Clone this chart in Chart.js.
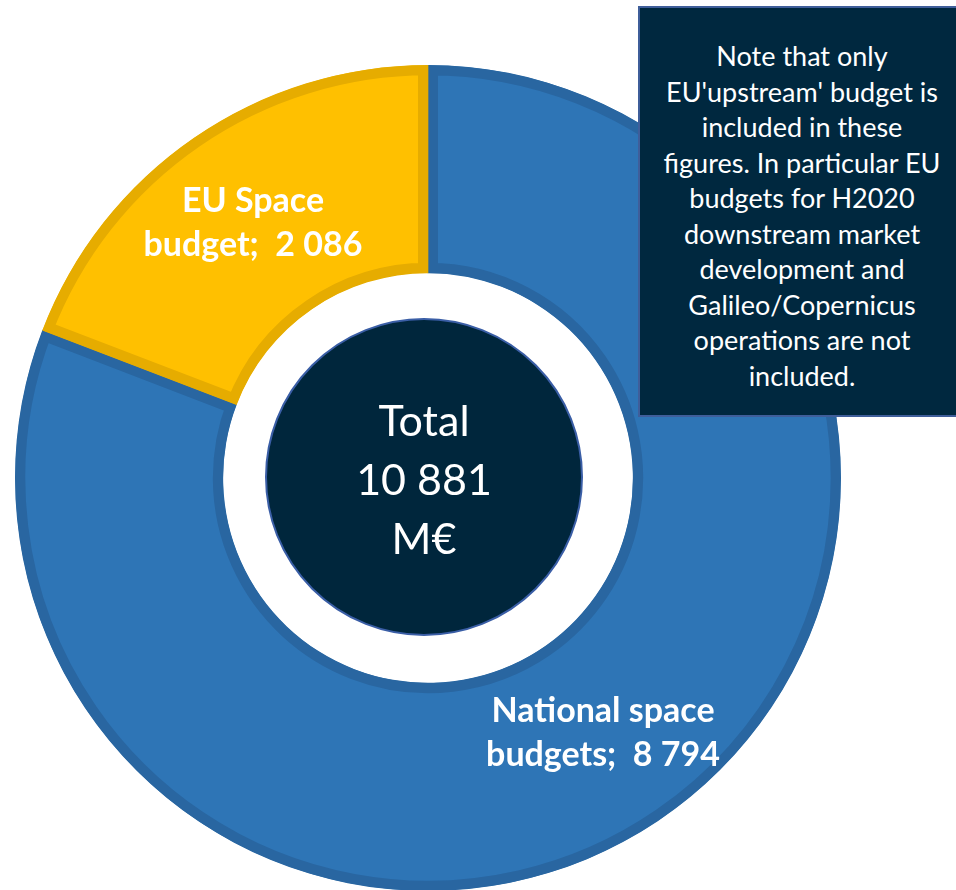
<!DOCTYPE html>
<html>
<head>
<meta charset="utf-8">
<script src="https://cdn.jsdelivr.net/npm/chart.js@4"></script>
<style>
    html, body {
        margin: 0;
        padding: 0;
        width: 956px;
        height: 890px;
        overflow: hidden;
        background: #ffffff;
    }
    #budgetChart {
        position: absolute;
        left: 15px;
        top: 65px;
    }
    .note-box {
        position: absolute;
        left: 638px;
        top: 6px;
        width: 328px;
        height: 411px;
        box-sizing: border-box;
        background: #00283f;
        border: 2px solid #3f5e9a;
        color: #ffffff;
        font-family: Lato, 'Noto Sans', sans-serif;
        font-size: 27px;
        line-height: 35.5px;
        text-align: center;
        padding-top: 30px;
        z-index: 2;
    }
</style>
</head>
<body>
<canvas id="budgetChart" width="826" height="826"></canvas>
<div class="note-box" id="note"></div>

<script>
// ============================================
// Chart data
// ============================================
const categories = [
    ['National space', 'budgets'],
    ['EU Space', 'budget']
];
const budgetValues = [8794, 2086];          // M€
const totalValue = 10881;                    // as printed in the centre
const sliceColors = ['#2e75b6', '#ffc000'];
const sliceBorders = ['#2966a1', '#e6ac00'];

const noteLines = [
    'Note that only',
    "EU'upstream' budget is",
    'included in these',
    'figures. In particular EU',
    'budgets for H2020',
    'downstream market',
    'development and',
    'Galileo/Copernicus',
    'operations are not',
    'included.'
];

// space as thousands separator, e.g. 10 881
function formatNumber(v) {
    return Math.round(v).toString().replace(/\B(?=(\d{3})+(?!\d))/g, ' ');
}

// ============================================
// Centre disc + slice labels
// ============================================
const overlayPlugin = {
    id: 'overlay',
    afterDatasetsDraw(chart) {
        const ctx = chart.ctx;
        const meta = chart.getDatasetMeta(0);
        const cx = meta.data[0].x;
        const cy = meta.data[0].y;

        // dark disc in the hole
        ctx.save();
        ctx.beginPath();
        ctx.arc(cx - 4, cy - 1, 158, 0, Math.PI * 2);
        ctx.fillStyle = '#00263c';
        ctx.fill();
        ctx.lineWidth = 2;
        ctx.strokeStyle = '#3a5ea6';
        ctx.stroke();

        ctx.fillStyle = '#ffffff';
        ctx.textAlign = 'center';
        ctx.textBaseline = 'middle';
        ctx.font = '43px Lato, "Noto Sans", sans-serif';
        ['Total', formatNumber(totalValue), 'M€'].forEach((line, i) => {
            ctx.fillText(line, cx - 4, cy - 56 + i * 59);
        });

        // slice labels at the middle of each arc
        ctx.font = 'bold 34px Lato, "Noto Sans", sans-serif';
        meta.data.forEach((arc, i) => {
            const pos = arc.tooltipPosition();
            const lines = categories[i].slice();
            lines[lines.length - 1] += ';  ' + formatNumber(budgetValues[i]);
            const lh = 44;
            const y0 = pos.y - (lines.length - 1) * lh / 2;
            lines.forEach((line, j) => {
                ctx.fillText(line, pos.x, y0 + j * lh);
            });
        });
        ctx.restore();
    }
};

document.getElementById('note').innerHTML = noteLines.join('<br>');

new Chart(document.getElementById('budgetChart'), {
    type: 'doughnut',
    data: {
        labels: categories.map(c => c.join(' ')),
        datasets: [{
            data: budgetValues,
            backgroundColor: sliceColors,
            borderColor: sliceBorders,
            borderWidth: 10,
            borderAlign: 'inner'
        }]
    },
    options: {
        responsive: false,
        animation: false,
        events: [],
        cutout: '49.6%',
        layout: { padding: 0 },
        plugins: {
            legend: { display: false },
            tooltip: { enabled: false }
        }
    },
    plugins: [overlayPlugin]
});
</script>
</body>
</html>
